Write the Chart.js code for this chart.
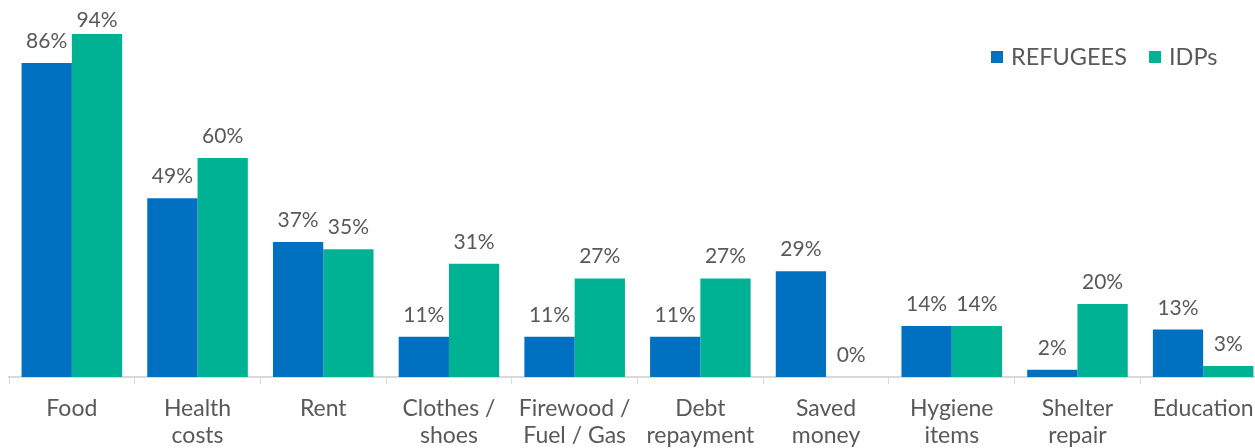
<!DOCTYPE html>
<html>
<head>
<meta charset="utf-8">
<script src="https://cdn.jsdelivr.net/npm/chart.js@4/dist/chart.umd.min.js"></script>
<style>
  html, body { margin: 0; padding: 0; background: #fff; overflow: hidden; }
  #wrap { position: relative; width: 1266px; height: 448px; }
  #legend { position: absolute; top: 44px; left: 991px; font-family: Lato, sans-serif; font-size: 23.5px; line-height: 24px; color: #595959; white-space: nowrap; }
  #legend span.box { display: inline-block; width: 12px; height: 12px; margin-right: 8px; vertical-align: 2px; }
  #legend span.item { margin-right: 22px; }
</style>
</head>
<body>
<div id="wrap">
  <canvas id="myChart"></canvas>
  <div id="legend"></div>
</div>
<script>
// categories and series
const categories = [
    "Food",
    ["Health", "costs"],
    "Rent",
    ["Clothes /", "shoes"],
    ["Firewood /", "Fuel / Gas"],
    ["Debt", "repayment"],
    ["Saved", "money"],
    ["Hygiene", "items"],
    ["Shelter", "repair"],
    "Education"
];
const refugees = [86, 49, 37, 11, 11, 11, 29, 14, 2, 13];
const idps = [94, 60, 35, 31, 27, 27, 0, 14, 20, 3];
const seriesNames = ["REFUGEES", "IDPs"];
const colors = ["#0070C0", "#00B294"];

const textColor = "#595959";

// percent labels above each bar
const barLabels = {
    id: "barLabels",
    afterDatasetsDraw(chart) {
        const ctx = chart.ctx;
        const top = chart.chartArea.top;
        ctx.save();
        ctx.font = "21px Lato";
        ctx.fillStyle = textColor;
        ctx.textAlign = "center";
        ctx.textBaseline = "alphabetic";
        chart.data.datasets.forEach((ds, i) => {
            const meta = chart.getDatasetMeta(i);
            meta.data.forEach((bar, j) => {
                let y = bar.y - 15;
                if (y < top + 15) y = top + 15;
                ctx.fillText(ds.data[j] + "%", bar.x, y);
            });
        });
        ctx.restore();
    }
};

const ctx = document.getElementById("myChart").getContext("2d");
new Chart(ctx, {
    type: "bar",
    data: {
        labels: categories,
        datasets: [
            { label: seriesNames[0], data: refugees, backgroundColor: colors[0] },
            { label: seriesNames[1], data: idps, backgroundColor: colors[1] }
        ]
    },
    options: {
        responsive: true,
        maintainAspectRatio: false,
        animation: false,
        layout: { padding: { left: 9, right: 0, top: 12, bottom: 0 } },
        datasets: { bar: { categoryPercentage: 0.8, barPercentage: 1.0 } },
        plugins: {
            legend: { display: false },
            tooltip: { enabled: false }
        },
        scales: {
            x: {
                grid: { drawOnChartArea: false, color: "#D9D9D9", tickLength: 7, offset: true },
                border: { color: "#D9D9D9", width: 2 },
                ticks: {
                    color: textColor,
                    font: { family: "Lato", size: 23, lineHeight: 1.17 },
                    padding: 11,
                    maxRotation: 0,
                    autoSkip: false
                },
                afterFit(scale) { scale.height = 71; }
            },
            y: { display: false, min: 0, max: 100 }
        }
    },
    plugins: [barLabels]
});

// legend
const legend = document.getElementById("legend");
seriesNames.forEach((name, i) => {
    const item = document.createElement("span");
    item.className = "item";
    item.innerHTML = '<span class="box" style="background:' + colors[i] + '"></span>' + name;
    legend.appendChild(item);
});
</script>
</body>
</html>
